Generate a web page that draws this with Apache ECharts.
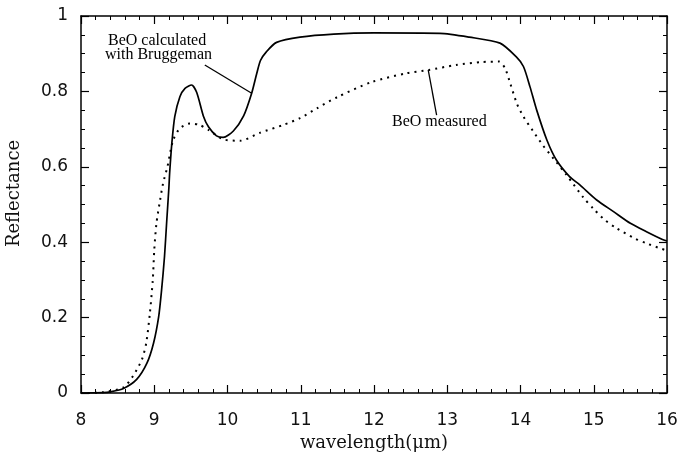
<!DOCTYPE html>
<html>
<head>
<meta charset="utf-8">
<script src="https://cdn.jsdelivr.net/npm/echarts@6/dist/echarts.min.js"></script>
<style>
  html, body { margin: 0; padding: 0; background: #fff; }
  #chart { width: 679px; height: 455px; }
</style>
</head>
<body>
<div id="chart"></div>
<script>
// BeO calculated with Bruggeman (solid)
var calcX = [8.0, 8.3, 8.4, 8.58, 8.76, 8.9, 8.99, 9.06, 9.1, 9.14, 9.17, 9.2, 9.21, 9.24, 9.28, 9.35, 9.42, 9.51, 9.58, 9.67, 9.74, 9.85, 9.94, 10.08, 10.22, 10.33, 10.4, 10.45, 10.53, 10.67, 10.99, 11.45, 12.0, 12.9, 13.3, 13.72, 13.94, 14.04, 14.13, 14.22, 14.36, 14.49, 14.67, 14.81, 15.04, 15.27, 15.5, 15.72, 15.93, 16.0]
var calcY = [0.0, 0.001, 0.003, 0.012, 0.036, 0.079, 0.132, 0.202, 0.273, 0.362, 0.455, 0.545, 0.583, 0.662, 0.733, 0.786, 0.808, 0.817, 0.797, 0.735, 0.706, 0.682, 0.678, 0.695, 0.735, 0.795, 0.848, 0.882, 0.905, 0.93, 0.944, 0.952, 0.955, 0.954, 0.944, 0.928, 0.892, 0.866, 0.812, 0.751, 0.671, 0.618, 0.574, 0.552, 0.512, 0.481, 0.45, 0.428, 0.408, 0.403]

// BeO measured (dotted)
var measX = [8.0, 8.3, 8.58, 8.71, 8.83, 8.89, 8.94, 8.98, 9.0, 9.03, 9.08, 9.12, 9.18, 9.22, 9.26, 9.35, 9.49, 9.62, 9.74, 9.94, 10.17, 10.44, 10.76, 10.99, 11.22, 11.5, 11.97, 12.44, 12.75, 13.12, 13.47, 13.71, 13.79, 13.86, 13.95, 14.04, 14.17, 14.31, 14.45, 14.63, 14.86, 14.99, 15.15, 15.31, 15.56, 15.72, 15.9, 16.0]
var measY = [0.0, 0.002, 0.015, 0.045, 0.088, 0.132, 0.211, 0.3, 0.379, 0.45, 0.512, 0.556, 0.6, 0.64, 0.672, 0.702, 0.715, 0.711, 0.698, 0.673, 0.669, 0.69, 0.711, 0.729, 0.755, 0.785, 0.825, 0.848, 0.857, 0.87, 0.878, 0.879, 0.861, 0.821, 0.768, 0.733, 0.695, 0.656, 0.622, 0.578, 0.518, 0.49, 0.459, 0.437, 0.41, 0.397, 0.384, 0.378]

// leader lines of the two notes, in data units
var calcPointer = [[9.69, 0.87], [10.33, 0.795]]
var measPointer = [[12.74, 0.857], [12.855, 0.737]]

var pairs = function (xs, ys) {
    return xs.map(function (x, i) { return [x, ys[i]] })
}

var tickFont = { fontFamily: 'DejaVu Sans', fontSize: 17, color: '#111' }
var nameFont = { fontFamily: 'DejaVu Serif', fontSize: 18, color: '#111' }
var noteFont = '16px "Liberation Serif"'
var axisLine = { show: true, onZero: false, lineStyle: { color: '#000', width: 1.5 } }
var tick = { show: true, inside: true, length: 8, lineStyle: { color: '#000', width: 1.2 } }
var minor = { show: true, length: 4, lineStyle: { color: '#000', width: 1 } }

var option = {
    animation: false,
    backgroundColor: '#fff',
    grid: { left: 81, right: 12, top: 16, bottom: 62, containLabel: false, outerBoundsMode: 'none' },
    xAxis: [
        {
            type: 'value', position: 'bottom', min: 8, max: 16, interval: 1,
            axisLine: axisLine,
            axisTick: tick,
            minorTick: Object.assign({ splitNumber: 5 }, minor),
            splitLine: { show: false },
            axisLabel: Object.assign({ margin: 19 }, tickFont),
            name: 'wavelength(μm)',
            nameLocation: 'middle',
            nameGap: 27,
            nameTextStyle: nameFont
        },
        {
            type: 'value', position: 'top', min: 8, max: 16, interval: 1,
            axisLine: axisLine,
            axisTick: tick,
            minorTick: Object.assign({ splitNumber: 5 }, minor),
            splitLine: { show: false },
            axisLabel: { show: false }
        }
    ],
    yAxis: [
        {
            type: 'value', position: 'left', min: 0, max: 1, interval: 0.2,
            axisLine: axisLine,
            axisTick: tick,
            minorTick: Object.assign({ splitNumber: 4 }, minor),
            splitLine: { show: false },
            axisLabel: Object.assign({ margin: 13 }, tickFont),
            name: 'Reflectance',
            nameLocation: 'middle',
            nameRotate: 90,
            nameGap: 58,
            nameTextStyle: Object.assign({ padding: [0, 0, 0, 22] }, nameFont)
        },
        {
            type: 'value', position: 'right', min: 0, max: 1, interval: 0.2,
            axisLine: axisLine,
            axisTick: tick,
            minorTick: Object.assign({ splitNumber: 4 }, minor),
            splitLine: { show: false },
            axisLabel: { show: false }
        }
    ],
    series: [
        {
            name: 'BeO calculated with Bruggeman',
            type: 'line',
            xAxisIndex: 0,
            yAxisIndex: 0,
            smooth: 0.25,
            showSymbol: false,
            symbol: 'none',
            lineStyle: { color: '#000', width: 1.7 },
            data: pairs(calcX, calcY),
            markLine: {
                silent: true,
                symbol: ['none', 'none'],
                label: { show: false },
                lineStyle: { color: '#000', width: 1.3, type: 'solid' },
                data: [[{ coord: calcPointer[0] }, { coord: calcPointer[1] }]]
            }
        },
        {
            name: 'BeO measured',
            type: 'line',
            xAxisIndex: 0,
            yAxisIndex: 0,
            smooth: 0.25,
            showSymbol: false,
            symbol: 'none',
            lineStyle: { color: '#000', width: 2, type: [2, 5] },
            data: pairs(measX, measY),
            markLine: {
                silent: true,
                symbol: ['none', 'none'],
                label: { show: false },
                lineStyle: { color: '#000', width: 1.3, type: 'solid' },
                data: [[{ coord: measPointer[0] }, { coord: measPointer[1] }]]
            }
        }
    ],
    graphic: [
        {
            type: 'text', left: 108, top: 33,
            style: { text: 'BeO calculated', font: noteFont, fill: '#000' }
        },
        {
            type: 'text', left: 105, top: 47,
            style: { text: 'with Bruggeman', font: noteFont, fill: '#000' }
        },
        {
            type: 'text', left: 392, top: 114,
            style: { text: 'BeO measured', font: noteFont, fill: '#000' }
        }
    ]
}

var myChart = echarts.init(document.getElementById('chart'))
myChart.setOption(option, true)
</script>
</body>
</html>
